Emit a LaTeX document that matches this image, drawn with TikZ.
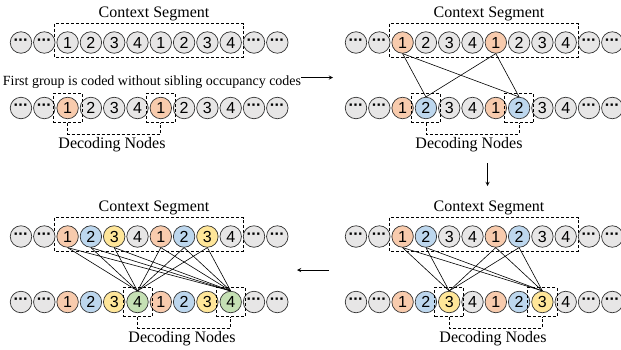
\documentclass[tikz,border=0pt]{standalone}
\usepackage{fontspec}
\setmainfont{Liberation Serif}
\setsansfont{Liberation Sans}
\usetikzlibrary{fit}

\definecolor{grayc}{HTML}{E7E6E6}
\definecolor{orc}{HTML}{F8CBAD}
\definecolor{blc}{HTML}{BDD7EE}
\definecolor{yec}{HTML}{FFE699}
\definecolor{grc}{HTML}{C5E0B4}

\newcommand{\elp}{\bfseries\raisebox{1pt}{\char"00B7\kern-0.5pt\char"00B7\kern-0.5pt\char"00B7}}

\tikzset{
    nd/.style={circle,draw=black!80,line width=0.7pt,minimum size=21.5pt,inner sep=0pt,font=\sffamily\fontsize{16}{16}\selectfont},
    dbox/.style={draw,line width=0.7pt,dash pattern=on 3pt off 2pt},
    decbox/.style={dbox,inner sep=3.5pt},
    lab/.style={font=\fontsize{16}{16}\selectfont},
    link/.style={line width=0.6pt},
    flow/.style={-stealth,line width=0.9pt}
}

\begin{document}
\begin{tikzpicture}[x=1pt,y=-1pt]
    \useasboundingbox (0,0) rectangle (621,349);

    % step 1: first group
    \begin{scope}
        \node[lab] (ctxA) at (154,13.5) {Context Segment};
        \draw[dbox] (54.5,23.5) rectangle (243,57);
        \foreach \t/\c [count=\i from 0] in {\elp/grayc,\elp/grayc,1/grayc,2/grayc,3/grayc,4/grayc,1/grayc,2/grayc,3/grayc,4/grayc,\elp/grayc,\elp/grayc}
            \node[nd,fill=\c] (At\i) at ({21+23.3*\i},42.5) {\t};
        \node[font=\fontsize{14}{14}\selectfont] (first) at (152,82) {First group is coded without sibling occupancy codes};
        \foreach \t/\c [count=\i from 0] in {\elp/grayc,\elp/grayc,1/orc,2/grayc,3/grayc,4/grayc,1/orc,2/grayc,3/grayc,4/grayc,\elp/grayc,\elp/grayc}
            \node[nd,fill=\c] (Ab\i) at ({21+23.3*\i},108) {\t};
        \node[decbox,fit=(Ab2)] (decA1) {};
        \node[decbox,fit=(Ab6)] (decA2) {};
        \draw[dbox] (decA1.south) -- ++(0,11) -| (decA2.south);
        \node[lab] (decA) at (112,145) {Decoding Nodes};
    \end{scope}

    % step 2
    \begin{scope}[shift={(335,0)}]
        \node[lab] (ctxB) at (154,13.5) {Context Segment};
        \draw[dbox] (54.5,23.5) rectangle (243,57);
        \foreach \t/\c [count=\i from 0] in {\elp/grayc,\elp/grayc,1/orc,2/grayc,3/grayc,4/grayc,1/orc,2/grayc,3/grayc,4/grayc,\elp/grayc,\elp/grayc}
            \node[nd,fill=\c] (Bt\i) at ({21+23.3*\i},42.5) {\t};
        \foreach \t/\c [count=\i from 0] in {\elp/grayc,\elp/grayc,1/orc,2/blc,3/grayc,4/grayc,1/orc,2/blc,3/grayc,4/grayc,\elp/grayc,\elp/grayc}
            \node[nd,fill=\c] (Bb\i) at ({21+23.3*\i},108) {\t};
        \node[decbox,fit=(Bb3)] (decB1) {};
        \node[decbox,fit=(Bb7)] (decB2) {};
        \draw[dbox] (decB1.south) -- ++(0,11) -| (decB2.south);
        \node[lab] (decB) at (134,145) {Decoding Nodes};
        \foreach \s in {2,6}
            \foreach \d in {3,7}
                \draw[link] (Bt\s.south) -- (Bb\d.north);
    \end{scope}

    % step 3
    \begin{scope}[shift={(335,194)}]
        \node[lab] (ctxC) at (154,13.5) {Context Segment};
        \draw[dbox] (54.5,23.5) rectangle (243,57);
        \foreach \t/\c [count=\i from 0] in {\elp/grayc,\elp/grayc,1/orc,2/blc,3/grayc,4/grayc,1/orc,2/blc,3/grayc,4/grayc,\elp/grayc,\elp/grayc}
            \node[nd,fill=\c] (Ct\i) at ({21+23.3*\i},42.5) {\t};
        \foreach \t/\c [count=\i from 0] in {\elp/grayc,\elp/grayc,1/orc,2/blc,3/yec,4/grayc,1/orc,2/blc,3/yec,4/grayc,\elp/grayc,\elp/grayc}
            \node[nd,fill=\c] (Cb\i) at ({21+23.3*\i},108) {\t};
        \node[decbox,fit=(Cb4)] (decC1) {};
        \node[decbox,fit=(Cb8)] (decC2) {};
        \draw[dbox] (decC1.south) -- ++(0,11) -| (decC2.south);
        \node[lab] (decC) at (158,145) {Decoding Nodes};
        \foreach \s in {2,3,6,7}
            \foreach \d in {4,8}
                \draw[link] (Ct\s.south) -- (Cb\d.north);
    \end{scope}

    % step 4
    \begin{scope}[shift={(0,194)}]
        \node[lab] (ctxD) at (154,13.5) {Context Segment};
        \draw[dbox] (54.5,23.5) rectangle (243,57);
        \foreach \t/\c [count=\i from 0] in {\elp/grayc,\elp/grayc,1/orc,2/blc,3/yec,4/grayc,1/orc,2/blc,3/yec,4/grayc,\elp/grayc,\elp/grayc}
            \node[nd,fill=\c] (Dt\i) at ({21+23.3*\i},42.5) {\t};
        \foreach \t/\c [count=\i from 0] in {\elp/grayc,\elp/grayc,1/orc,2/blc,3/yec,4/grc,1/orc,2/blc,3/yec,4/grc,\elp/grayc,\elp/grayc}
            \node[nd,fill=\c] (Db\i) at ({21+23.3*\i},108) {\t};
        \node[decbox,fit=(Db5)] (decD1) {};
        \node[decbox,fit=(Db9)] (decD2) {};
        \draw[dbox] (decD1.south) -- ++(0,11) -| (decD2.south);
        \node[lab] (decD) at (182,145) {Decoding Nodes};
        \foreach \s in {2,3,4,6,7,8}
            \foreach \d in {5,9}
                \draw[link] (Dt\s.south) -- (Db\d.north);
    \end{scope}

    % arrows between steps
    \coordinate (go1) at (301,77.5);
    \coordinate (to1) at (333,77.5);
    \coordinate (go2) at (487.5,163);
    \coordinate (to2) at (487.5,186);
    \coordinate (go3) at (329,270);
    \coordinate (to3) at (297,270);
    \draw[flow] (go1) -- (to1);
    \draw[flow] (go2) -- (to2);
    \draw[flow] (go3) -- (to3);
\end{tikzpicture}
\end{document}
